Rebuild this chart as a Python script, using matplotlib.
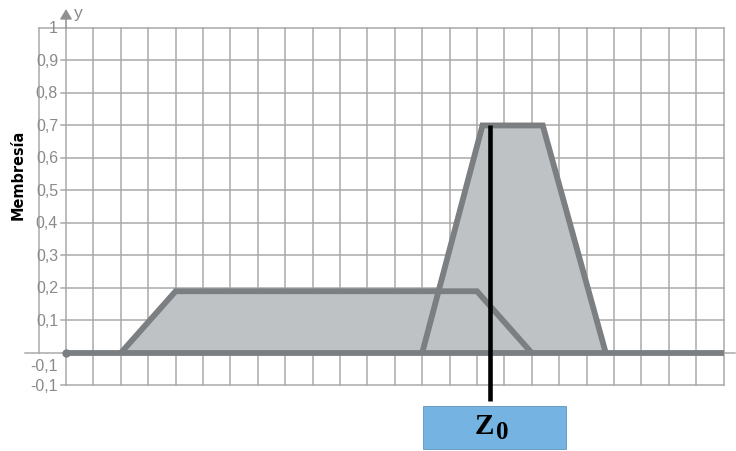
import matplotlib.pyplot as plt
from matplotlib.patches import Rectangle, Polygon

# membership functions (x in grid units, y = membership degree)
set1_x = [2, 4, 15, 17]
set1_y = [0, 0.19, 0.19, 0]
set2_x = [13, 15.2, 17.4, 19.7]
set2_y = [0, 0.7, 0.7, 0]

# centroid line
z0_x = 15.47
z0_top = 0.7
z0_bottom = -0.148

y_ticks = [1.0, 0.9, 0.8, 0.7, 0.6, 0.5, 0.4, 0.3, 0.2, 0.1]
y_labels = ["1", "0,9", "0,8", "0,7", "0,6", "0,5", "0,4", "0,3", "0,2", "0,1"]
n_cols = 24

GRID = "#a9a9a9"
EDGE = "#7c7f82"
FILL = "#bfc2c5"
TXT = "#8a8a8a"

fig = plt.figure(figsize=(7.36, 4.52), dpi=100)
ax = fig.add_axes([0, 0, 1, 1])
ax.set_xlim(-2.409, 24.453)
ax.set_ylim(-0.3015, 1.089)
ax.axis("off")

# grid
for i in range(n_cols + 1):
    ax.plot([i, i], [-0.1, 1.0], color=GRID, lw=1.1, zorder=1)
for y in y_ticks + [-0.1]:
    ax.plot([0, n_cols], [y, y], color=GRID, lw=1.1, zorder=1)

# y axis with arrow
ax.plot([-0.985, -0.985], [0, 1.0], color=GRID, lw=1.1, zorder=1)
ax.plot([-0.985, 0], [1.0, 1.0], color=GRID, lw=1.1, zorder=1)
ax.annotate("", xy=(0, 1.058), xytext=(0, 1.0),
            arrowprops=dict(arrowstyle="-|>,head_length=0.5,head_width=0.3",
                            color="#909090", lw=1.1,
                            mutation_scale=12, shrinkA=0, shrinkB=0))
ax.text(0.3, 1.049, "y", color=TXT, fontsize=12.5, family="Liberation Sans",
        va="center", ha="left")

for y, lab in zip(y_ticks, y_labels):
    if y < 1.0:
        ax.plot([-0.2, 0], [y, y], color=GRID, lw=1.1, zorder=1)
    ax.text(-0.29, y, lab, color=TXT, fontsize=11.5, family="Liberation Sans",
            va="center", ha="right", zorder=2)
ax.plot([-0.2, 0], [-0.1, -0.1], color=GRID, lw=1.1, zorder=1)
ax.text(-0.29, -0.04, "-0,1", color=TXT, fontsize=11.5, family="Liberation Sans",
        va="center", ha="right")
ax.text(-0.29, -0.1, "-0,1", color=TXT, fontsize=11.5, family="Liberation Sans",
        va="center", ha="right")

# x axis
ax.plot([-1.5, 24.4], [0, 0], color=GRID, lw=1.1, zorder=1)

# filled sets
for xs, ys in [(set1_x, set1_y), (set2_x, set2_y)]:
    ax.add_patch(Polygon(list(zip(xs, ys)), closed=True, facecolor=FILL,
                         edgecolor="none", zorder=2))
for xs, ys in [(set1_x, set1_y), (set2_x, set2_y)]:
    ax.plot(xs, ys, color=EDGE, lw=4.2, solid_joinstyle="miter",
            solid_capstyle="butt", zorder=3)
ax.plot([0, n_cols], [0, 0], color=EDGE, lw=4.2, solid_capstyle="butt", zorder=3)
ax.plot([0], [0], "o", color=EDGE, ms=5, zorder=3)

# centroid
ax.plot([z0_x, z0_x], [z0_bottom, z0_top], color="black", lw=3.3,
        solid_capstyle="butt", zorder=4)
ax.add_patch(Rectangle((13.03, -0.295), 5.22, 0.132, facecolor="#74b3e2",
                       edgecolor="#5f95bd", lw=0.6, zorder=4))
ax.text(15.62, -0.222, "Z", fontsize=21, family="Liberation Serif",
        weight="bold", ha="right", va="center", zorder=5)
ax.text(15.7, -0.24, "0", fontsize=18, family="Liberation Serif",
        weight="bold", ha="left", va="center", zorder=5)

ax.text(-1.75, 0.551, "Membresía", rotation=90, fontsize=11.5, weight="bold",
        stretch="condensed", family=["DejaVu Sans"],
        ha="center", va="center")

fig.savefig("out.png", dpi=100)
